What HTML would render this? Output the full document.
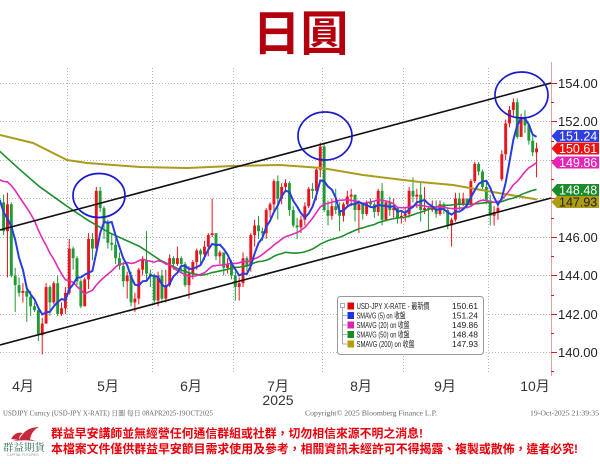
<!DOCTYPE html>
<html><head><meta charset="utf-8">
<style>
html,body{margin:0;padding:0;background:#fff;overflow:hidden;}
svg{display:block;}
text{font-family:"Liberation Sans","Noto Sans CJK TC",sans-serif;}
</style></head><body>
<svg width="600" height="464" viewBox="0 0 600 464" xmlns="http://www.w3.org/2000/svg">
<defs><clipPath id="cp"><rect x="0" y="60" width="551" height="316"/></clipPath></defs>
<rect width="600" height="464" fill="#fff"/>

<text x="300.5" y="50" text-anchor="middle" font-size="48" font-weight="bold" fill="#b3000f" style="font-family:'Noto Sans CJK TC','Noto Sans CJK SC',sans-serif">日圓</text>

<g stroke="#b4b4b4" stroke-width="1" stroke-dasharray="1 2" fill="none">
<line x1="0" y1="83.5" x2="551" y2="83.5"/>
<line x1="0" y1="121.5" x2="551" y2="121.5"/>
<line x1="0" y1="160.5" x2="551" y2="160.5"/>
<line x1="0" y1="198.5" x2="551" y2="198.5"/>
<line x1="0" y1="237.5" x2="551" y2="237.5"/>
<line x1="0" y1="275.5" x2="551" y2="275.5"/>
<line x1="0" y1="314.5" x2="551" y2="314.5"/>
<line x1="0" y1="352.5" x2="551" y2="352.5"/>
<line x1="67.5" y1="68" x2="67.5" y2="372"/>
<line x1="152.5" y1="68" x2="152.5" y2="372"/>
<line x1="233.5" y1="68" x2="233.5" y2="372"/>
<line x1="322.5" y1="68" x2="322.5" y2="372"/>
<line x1="403.5" y1="68" x2="403.5" y2="372"/>
<line x1="488.5" y1="68" x2="488.5" y2="372"/>
</g>

<g clip-path="url(#cp)">
<g id="cand"></g>
<polyline fill="none" stroke="#ab9c1c" stroke-width="2" points="0,135 33,143 67,160 87,163 140,167 187,168 233,166 280,165 322,168 363,175 420,182 453,185 487,191 537,199.5"/>
<polyline id="ma50" fill="none" stroke="#1f8f2e" stroke-width="1.6" points=""/>
<polyline id="ma20" fill="none" stroke="#e22bb4" stroke-width="1.6" points=""/>
<polyline id="ma5" fill="none" stroke="#2a3ce0" stroke-width="2" points=""/>
<line x1="0" y1="230" x2="551" y2="83" stroke="#111" stroke-width="1.6"/>
<line x1="0" y1="345" x2="551" y2="198" stroke="#111" stroke-width="1.6"/>
<ellipse cx="99" cy="195.5" rx="26" ry="22" fill="none" stroke="#1a1ad0" stroke-width="1.7"/>
<ellipse cx="325" cy="136" rx="27" ry="24" fill="none" stroke="#1a1ad0" stroke-width="1.7"/>
<ellipse cx="521.5" cy="95" rx="26.5" ry="23" fill="none" stroke="#1a1ad0" stroke-width="1.7"/>
</g>

<line x1="551.5" y1="62" x2="551.5" y2="376" stroke="#dca4a4" stroke-width="1"/>
<g stroke="#d42020" stroke-width="1">
<line x1="551" y1="83.5" x2="557" y2="83.5"/><line x1="551" y1="121.5" x2="557" y2="121.5"/>
<line x1="551" y1="160.5" x2="557" y2="160.5"/><line x1="551" y1="198.5" x2="557" y2="198.5"/>
<line x1="551" y1="237.5" x2="557" y2="237.5"/><line x1="551" y1="275.5" x2="557" y2="275.5"/>
<line x1="551" y1="314.5" x2="557" y2="314.5"/><line x1="551" y1="352.5" x2="557" y2="352.5"/>
<line x1="551" y1="102.5" x2="554" y2="102.5"/><line x1="551" y1="141.5" x2="554" y2="141.5"/>
<line x1="551" y1="179.5" x2="554" y2="179.5"/><line x1="551" y1="218.5" x2="554" y2="218.5"/>
<line x1="551" y1="256.5" x2="554" y2="256.5"/><line x1="551" y1="295.5" x2="554" y2="295.5"/>
<line x1="551" y1="333.5" x2="554" y2="333.5"/><line x1="551" y1="371.5" x2="554" y2="371.5"/>
</g>
<g font-size="13" fill="#222">
<text x="558" y="88">154.00</text>
<text x="558" y="126">152.00</text>
<text x="558" y="242">146.00</text>
<text x="558" y="280">144.00</text>
<text x="558" y="319">142.00</text>
<text x="558" y="357">140.00</text>
</g>

<g font-size="12.5">
<path d="M551.5 136 L557 130 L599 130 L599 142 L557 142 Z" fill="#3040e0"/>
<text x="559" y="140.5" fill="#fff">151.24</text>
<path d="M551.5 148.5 L557 142.5 L599 142.5 L599 154.5 L557 154.5 Z" fill="#ee1111"/>
<text x="559" y="153" fill="#fff">150.61</text>
<path d="M551.5 162.5 L557 156.5 L599 156.5 L599 168.5 L557 168.5 Z" fill="#e622b8"/>
<text x="559" y="167" fill="#fff">149.86</text>
<path d="M551.5 202 L557 196 L599 196 L599 208 L557 208 Z" fill="#ad9c14"/>
<text x="559" y="206.5" fill="#222">147.93</text>
<path d="M551.5 190 L557 184 L599 184 L599 196 L557 196 Z" fill="#1a8a2a"/>
<text x="559" y="194.5" fill="#fff">148.48</text>
</g>

<rect x="337.5" y="296.5" width="146" height="58" rx="3" fill="#fff" stroke="#999"/>
<g stroke="#aaa" stroke-width="1" fill="none">
<rect x="340.5" y="303.5" width="4" height="4"/>
<line x1="342.5" y1="308" x2="342.5" y2="344"/>
<line x1="342.5" y1="315.5" x2="347" y2="315.5"/>
<line x1="342.5" y1="325" x2="347" y2="325"/>
<line x1="342.5" y1="334.5" x2="347" y2="334.5"/>
<line x1="342.5" y1="344" x2="347" y2="344"/>
</g>
<rect x="347.5" y="302.5" width="6.5" height="7" fill="#e00000"/>
<rect x="347.5" y="312" width="6.5" height="7" fill="#2233dd"/>
<rect x="347.5" y="321.5" width="6.5" height="7" fill="#e020b0"/>
<rect x="347.5" y="331" width="6.5" height="7" fill="#129020"/>
<rect x="347.5" y="340.5" width="6.5" height="7" fill="#b0a000"/>
<g font-size="8.5" fill="#222">
<text x="356.5" y="309" textLength="73" lengthAdjust="spacingAndGlyphs">USD-JPY X-RATE - 最新價</text>
<text x="356.5" y="318.5" textLength="49" lengthAdjust="spacingAndGlyphs">SMAVG (5)  on 收盤</text>
<text x="356.5" y="328" textLength="53" lengthAdjust="spacingAndGlyphs">SMAVG (20)  on 收盤</text>
<text x="356.5" y="337.5" textLength="53" lengthAdjust="spacingAndGlyphs">SMAVG (50)  on 收盤</text>
<text x="356.5" y="347" textLength="58" lengthAdjust="spacingAndGlyphs">SMAVG (200)  on 收盤</text>
<text x="478" y="309" text-anchor="end">150.61</text>
<text x="478" y="318.5" text-anchor="end">151.24</text>
<text x="478" y="328" text-anchor="end">149.86</text>
<text x="478" y="337.5" text-anchor="end">148.48</text>
<text x="478" y="347" text-anchor="end">147.93</text>
</g>

<g font-size="14" fill="#333" text-anchor="middle">
<text x="23" y="391">4月</text>
<text x="108" y="391">5月</text>
<text x="191" y="391">6月</text>
<text x="278" y="391">7月</text>
<text x="361" y="391">8月</text>
<text x="445" y="391">9月</text>
<text x="535" y="391">10月</text>
<text x="278" y="405">2025</text>
</g>

<g font-size="7" fill="#666">
<text x="3" y="415.5" textLength="210" lengthAdjust="spacingAndGlyphs" style="font-family:'Liberation Serif','Noto Serif CJK SC',serif">USDJPY Curncy (USD-JPY X-RATE) 日圖 每日 08APR2025-19OCT2025</text>
<text x="305" y="415.5" textLength="132" lengthAdjust="spacingAndGlyphs" style="font-family:'Liberation Serif',serif">Copyright© 2025 Bloomberg Finance L.P.</text>
<text x="530" y="415.5" textLength="69" lengthAdjust="spacingAndGlyphs" style="font-family:'Liberation Serif',serif">19-Oct-2025 21:39:35</text>
</g>

<path d="M11 439 Q15 431 23 433 Q19 435 19 440 Z" fill="#c8283c"/>
<path d="M19 440 Q25 427 39 427 Q31 431 30 440 Z" fill="#c8283c"/>
<path d="M13 441 Q24 437 36 441 Q24 439.5 13 441 Z" fill="#c8283c"/>
<text x="3" y="451" font-size="10" fill="#2f6b4f" textLength="42" lengthAdjust="spacingAndGlyphs" style="font-family:'Noto Serif CJK SC','Noto Sans CJK TC',serif">群益期貨</text>
<text x="7" y="456" font-size="3.5" fill="#999">CAPITAL FUTURES</text>

<g font-size="12" font-weight="bold" fill="#e8000b">
<text x="51" y="437.5" textLength="372" lengthAdjust="spacingAndGlyphs">群益早安講師並無經營任何通信群組或社群，切勿相信來源不明之消息!</text>
<text x="51" y="453" textLength="527" lengthAdjust="spacingAndGlyphs">本檔案文件僅供群益早安節目需求使用及參考，相關資訊未經許可不得揭露、複製或散佈，違者必究!</text>
</g>
</svg>
<script>
(function(){
var raw="147.8 148.2 146.1 146.3|146.3 148.3 143.9 147.7|147.7 147.8 143.9 144.0|144.0 144.4 142.1 143.5|143.5 143.9 142.9 143.1|143.1 143.6 142.6 143.2|143.2 143.5 141.6 142.9|142.9 143.2 141.9 142.4|142.4 142.6 142.1 142.2|142.2 142.3 140.6 140.9|140.9 141.8 139.9 141.5|141.5 143.6 141.5 143.4|143.4 143.5 141.9 142.6|142.6 143.7 142.5 143.6|143.6 144.0 141.9 142.0|142.0 142.6 141.9 142.3|142.3 143.4 142.0 143.1|143.1 145.9 143.0 145.4|145.4 145.5 144.3 144.9|144.9 145.0 143.5 143.7|143.7 143.8 142.3 142.4|142.4 143.9 142.4 143.8|143.8 146.2 143.3 145.9|145.9 146.2 144.8 145.4|145.4 148.6 145.4 148.4|148.4 148.6 147.3 147.5|147.5 147.6 145.9 146.7|146.7 146.9 145.4 145.7|145.7 146.2 145.3 145.6|145.6 145.9 144.6 144.9|144.9 145.2 144.3 144.5|144.5 144.7 143.4 143.7|143.7 144.2 142.8 144.0|144.0 144.2 142.4 142.6|142.6 143.1 142.1 142.8|142.8 144.4 142.5 144.3|144.3 145.0 144.0 144.8|144.8 146.3 143.8 144.1|144.1 144.3 143.4 144.0|144.0 144.1 142.5 142.7|142.7 144.2 142.4 144.0|144.0 144.3 142.7 142.8|142.8 144.3 142.6 143.5|143.5 145.1 143.4 144.9|144.9 145.0 144.3 144.6|144.6 145.5 144.5 144.9|144.9 145.0 144.1 144.6|144.6 144.7 143.4 143.5|143.5 144.5 142.8 144.1|144.1 144.8 143.8 144.7|144.7 145.4 144.3 145.3|145.3 145.4 144.6 145.1|145.1 145.8 144.8 145.5|145.5 146.2 145.0 146.1|146.1 148.0 146.0 146.2|146.2 146.2 144.8 145.0|145.0 145.3 144.6 145.2|145.2 145.2 144.0 144.4|144.4 144.9 144.1 144.6|144.6 144.8 143.8 144.0|144.0 144.2 142.7 143.4|143.4 143.9 142.7 143.6|143.6 145.2 143.4 144.9|144.9 145.0 144.2 144.5|144.5 146.2 144.2 146.1|146.1 146.9 145.5 146.6|146.6 147.1 145.9 146.3|146.3 146.5 145.8 146.2|146.2 147.5 145.9 147.4|147.4 147.8 147.0 147.7|147.7 149.0 147.3 148.9|148.9 149.2 146.9 148.0|148.0 148.8 147.7 148.6|148.6 149.0 148.4 148.8|148.8 148.9 147.1 147.4|147.4 147.6 146.5 146.6|146.6 147.0 145.9 146.5|146.5 147.1 146.2 146.9|146.9 147.8 146.6 147.6|147.6 148.6 147.5 148.5|148.5 148.8 148.0 148.4|148.4 149.6 147.9 149.5|149.5 150.9 149.1 150.7|150.7 150.9 147.3 147.4|147.4 147.9 146.6 147.1|147.1 148.0 146.9 147.6|147.6 148.5 147.2 147.4|147.4 147.8 146.3 147.1|147.1 147.8 146.8 147.7|147.7 148.4 147.5 148.1|148.1 148.5 147.6 148.2|148.2 148.2 146.8 147.4|147.4 147.9 146.2 147.7|147.7 147.8 146.9 147.2|147.2 147.9 147.1 147.8|147.8 148.0 147.5 147.7|147.7 147.8 147.0 147.3|147.3 148.5 147.1 148.4|148.4 148.8 146.6 146.9|146.9 147.9 146.8 147.8|147.8 148.1 147.1 147.4|147.4 148.0 147.0 147.5|147.5 147.5 146.7 147.0|147.0 147.3 146.7 147.1|147.1 147.5 146.8 147.2|147.2 148.6 147.0 148.4|148.4 149.1 147.8 148.1|148.1 148.5 147.5 148.2|148.2 148.8 146.8 147.4|147.4 148.6 147.2 147.5|147.5 147.6 146.3 147.4|147.4 147.9 147.3 147.5|147.5 147.9 147.0 147.2|147.2 147.9 147.1 147.7|147.7 147.8 147.2 147.4|147.4 147.5 146.4 146.6|146.6 147.0 145.5 146.9|146.9 148.3 146.8 148.0|148.0 148.3 147.4 147.7|147.7 148.3 147.6 148.0|148.0 148.0 147.5 147.7|147.7 149.0 147.6 148.9|148.9 149.9 148.8 149.8|149.8 149.9 149.2 149.4|149.4 149.5 148.5 148.6|148.6 148.9 147.7 147.9|147.9 148.2 146.6 147.1|147.1 147.6 146.6 147.3|147.3 147.9 146.9 147.5|149.0 150.5 148.9 150.3|150.3 152.1 150.0 151.9|151.9 152.8 151.7 152.6|152.6 153.2 152.2 153.0|153.0 153.2 151.1 151.2|151.2 152.4 151.2 152.2|152.2 152.6 151.4 151.8|151.8 151.9 150.8 151.0|151.0 151.3 150.2 150.4|150.4 150.9 149.1 150.6";
var D=raw.split('|').map(function(l){return l.split(' ').map(Number);});
var pre=[147.8,148.3,147.8,148.6,149.2,149.3,148.7,148.7,149.3,150.7,149.9,150.6,151.0,149.8,149.9,149.6,149.3,146.1,146.9,147.8];
function X(i){return 3.6+3.862*i;}
function Y(p){return 160-(p-150)*19.25;}
var s='';
for(var i=0;i<D.length;i++){
 var o=D[i][0],h=D[i][1],l=D[i][2],c=D[i][3];
 var col=c>=o?'#e8141e':'#1f9a35';
 var x=X(i);
 s+='<rect x="'+(x-0.5).toFixed(2)+'" y="'+Y(h).toFixed(2)+'" width="1" height="'+(Y(l)-Y(h)).toFixed(2)+'" fill="'+col+'"/>';
 var t=Y(Math.max(o,c)),b=Y(Math.min(o,c)); if(b-t<1.2){b=t+1.2;}
 s+='<rect x="'+(x-1.45).toFixed(2)+'" y="'+t.toFixed(2)+'" width="2.9" height="'+(b-t).toFixed(2)+'" fill="'+col+'"/>';
}
document.getElementById('cand').innerHTML=s;
var closes=pre.concat(D.map(function(d){return d[3];}));
var P=pre.length;
function sma(n,i){var k=P+i,sum=0;for(var j=k-n+1;j<=k;j++)sum+=closes[j];return sum/n;}
function pts(n,from){var a=[];for(var i=from;i<D.length;i++)a.push(X(i).toFixed(2)+','+Y(sma(n,i)).toFixed(2));return a.join(' ');}
document.getElementById('ma5').setAttribute('points',pts(5,-1));
document.getElementById('ma20').setAttribute('points',pts(20,-1));
var m50=[[-1,150.45],[4.2,149.5],[9.4,148.6],[16.4,147.6],[21.6,146.9],[27.6,146.2],[35.3,145.5],[40.5,144.8],[45.7,144.3]];
var a=m50.map(function(p){return X(p[0]).toFixed(2)+','+Y(p[1]).toFixed(2);});
for(var k=49;k<D.length;k++){var sm=0;for(var j=k-49;j<=k;j++)sm+=D[j][3];a.push(X(k).toFixed(2)+','+Y(sm/50).toFixed(2));}
document.getElementById('ma50').setAttribute('points',a.join(' '));
})();
</script>
</body></html>
